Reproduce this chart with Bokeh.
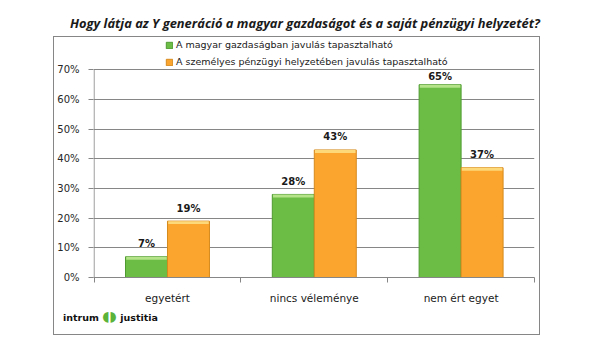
from bokeh.plotting import figure
from bokeh.models import (Range1d, FixedTicker, Legend, LegendItem, LabelSet,
                          ColumnDataSource, Div)
from bokeh.layouts import column
from bokeh.core.properties import value
from bokeh.embed import file_html
from bokeh.resources import INLINE

# ---- data ----
title_text = "Hogy látja az Y generáció a magyar gazdaságot és a saját pénzügyi helyzetét?"
categories = ["egyetért", "nincs véleménye", "nem ért egyet"]
series_names = ["A magyar gazdaságban javulás tapasztalható",
                "A személyes pénzügyi helyzetében javulás tapasztalható"]
economy = [7, 28, 65]
personal = [19, 43, 37]
y_ticks = [0, 10, 20, 30, 40, 50, 60, 70]
y_tick_labels = ["0%", "10%", "20%", "30%", "40%", "50%", "60%", "70%"]

GREEN, GREEN_HI, GREEN_EDGE = "#6cbd45", "#b4e38a", "#4f9a31"
ORANGE, ORANGE_HI, ORANGE_EDGE = "#fba52e", "#fed97a", "#d68a1e"
GRID = "#868686"
FONT = "DejaVu Sans"
Y_MAX = 70

# layout (pixels)
FIG_W, FIG_H = 485, 269
BORDER_L, BORDER_R, BORDER_T, BORDER_B = 37, 5, 1, 24
AXIS_H = 212                      # pixel height of the 0..70% span
FRAME_H = FIG_H - BORDER_T - BORDER_B
y_end = Y_MAX * FRAME_H / AXIS_H  # room above 70% for the legend

p = figure(width=FIG_W, height=FIG_H, output_backend="svg", toolbar_location=None,
           x_range=Range1d(-0.004, len(categories)), y_range=Range1d(0, y_end),
           min_border_left=BORDER_L, min_border_right=BORDER_R,
           min_border_top=BORDER_T, min_border_bottom=BORDER_B, title=None)
p.outline_line_color = None
p.background_fill_color = "white"
p.border_fill_color = "white"

bw = 0.286
centers = [i + 0.5 for i in range(len(categories))]
gx = [c - bw / 2 for c in centers]
ox = [c + bw / 2 for c in centers]


def label_offset(v):
    # labels of bars near the top sit a little closer to the bar
    return 8 if v > Y_MAX - 8 else 13


src_g = ColumnDataSource(dict(x=gx, top=economy, hi=[v - 1.0 for v in economy],
                              lab=[f"{v}%" for v in economy],
                              off=[label_offset(v) for v in economy]))
src_o = ColumnDataSource(dict(x=ox, top=personal, hi=[v - 1.0 for v in personal],
                              lab=[f"{v}%" for v in personal],
                              off=[label_offset(v) for v in personal]))

rg = p.vbar(x="x", top="top", bottom=0, width=bw, source=src_g,
            fill_color=GREEN, line_color=GREEN_EDGE, line_width=1)
ro = p.vbar(x="x", top="top", bottom=0, width=bw, source=src_o,
            fill_color=ORANGE, line_color=ORANGE_EDGE, line_width=1)
p.vbar(x="x", top="top", bottom="hi", width=bw - 0.01, source=src_g,
       fill_color=GREEN_HI, line_color=None)
p.vbar(x="x", top="top", bottom="hi", width=bw - 0.01, source=src_o,
       fill_color=ORANGE_HI, line_color=None)

for src in (src_g, src_o):
    ls = LabelSet(x="x", y="top", text="lab", source=src, text_align="center",
                  text_baseline="middle", y_offset="off", text_font=value(FONT),
                  text_font_size="10px", text_font_style="bold",
                  text_color="#1a1a1a")
    p.add_layout(ls)

# value axis line only up to 70%
p.segment(x0=[0], y0=[0], x1=[0], y1=[Y_MAX], line_color=GRID, line_width=1)

# axes
p.yaxis.ticker = FixedTicker(ticks=y_ticks)
p.yaxis.major_label_overrides = {t: l for t, l in zip(y_ticks, y_tick_labels)}
p.yaxis.major_tick_in = 0
p.yaxis.major_tick_out = 5
p.yaxis.minor_tick_line_color = None
p.yaxis.axis_line_color = None
p.yaxis.major_tick_line_color = GRID
p.yaxis.major_label_standoff = 9
p.yaxis.major_label_text_font = FONT
p.yaxis.major_label_text_font_size = "10px"
p.yaxis.major_label_text_color = "#262626"

p.xaxis.ticker = FixedTicker(ticks=centers, minor_ticks=list(range(len(categories) + 1)))
p.xaxis.major_label_overrides = {c: n for c, n in zip(centers, categories)}
p.xaxis.major_tick_line_color = None
p.xaxis.major_tick_in = 0
p.xaxis.major_tick_out = 0
p.xaxis.minor_tick_in = 0
p.xaxis.minor_tick_out = 5
p.xaxis.minor_tick_line_color = GRID
p.xaxis.axis_line_color = GRID
p.xaxis.major_label_standoff = 9
p.xaxis.major_label_text_font = FONT
p.xaxis.major_label_text_font_size = "10.5px"
p.xaxis.major_label_text_color = "#1a1a1a"

p.xgrid.grid_line_color = None
p.ygrid.grid_line_color = GRID
p.ygrid.ticker = FixedTicker(ticks=y_ticks[1:])

# legend
legend = Legend(items=[LegendItem(label=series_names[0], renderers=[rg]),
                       LegendItem(label=series_names[1], renderers=[ro])],
                location=(72, 207), orientation="vertical",
                label_text_font=FONT, label_text_font_size="9.5px",
                label_text_color="#1a1a1a", label_height=17, label_standoff=3,
                glyph_height=8, glyph_width=8, spacing=0, padding=0, margin=0,
                background_fill_alpha=0, border_line_color=None)
p.add_layout(legend, "center")

title_div = Div(
    text=f'<div style="padding-top:16px; line-height:15px; '
         f'font-family:\'Open Sans\'; font-size:12.9px; font-weight:bold; '
         f'font-style:italic; color:#1a1a1a; white-space:nowrap;">{title_text}</div>',
    width=545, height=37, margin=(0, 0, 0, 70))

logo_div = Div(
    text='<div style="padding-top:1px; padding-left:9px; line-height:18px; '
         'font-family:\'DejaVu Sans\'; font-size:9.5px; font-weight:bold; '
         'color:#111111; white-space:nowrap;">intrum '
         '<span style="color:#5bb33a; font-size:14px;">&#9686;&#9687;</span> justitia</div>',
    width=FIG_W, height=28, margin=0)

box = column(p, logo_div, margin=(0, 0, 0, 54), spacing=0,
             styles={"outline": "1px solid #868686"})
layout = column(title_div, box, spacing=0)

open("out.html", "w").write(file_html(layout, INLINE))
